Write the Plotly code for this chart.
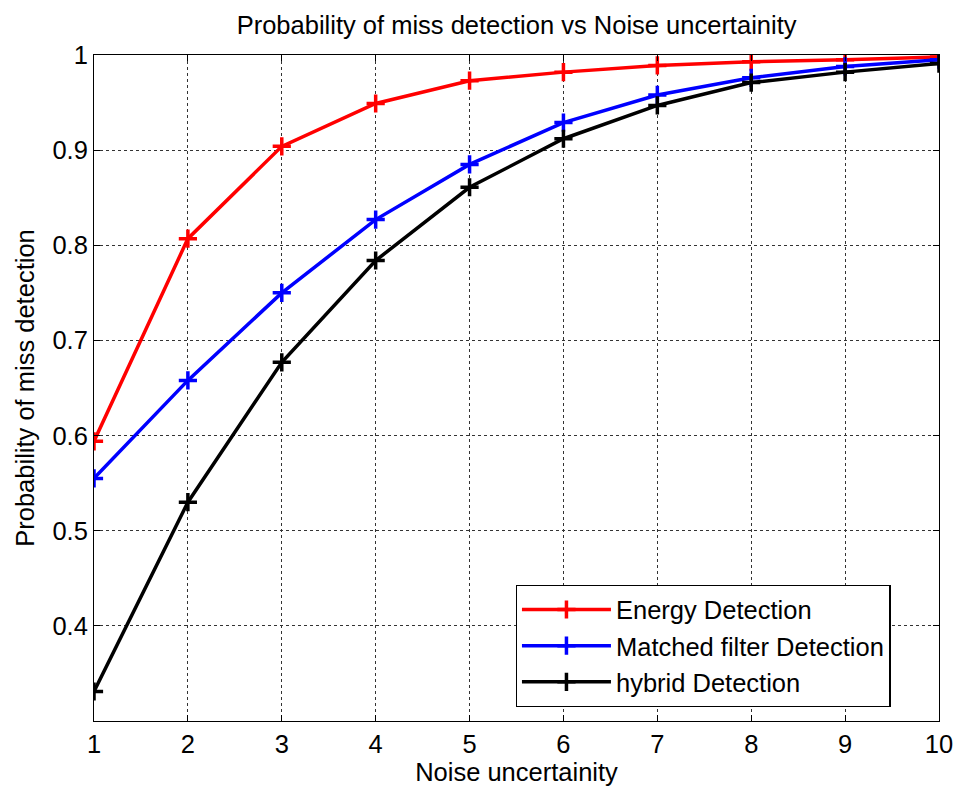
import plotly.graph_objects as go

# Noise uncertainty steps
noise = [1, 2, 3, 4, 5, 6, 7, 8, 9, 10]

# Probability of miss detection for each detector
energy_pm = [0.594, 0.807, 0.904, 0.949, 0.973, 0.982, 0.989, 0.993, 0.995, 0.998]
matched_pm = [0.555, 0.658, 0.750, 0.827, 0.885, 0.929, 0.958, 0.976, 0.988, 0.995]
hybrid_pm = [0.331, 0.530, 0.677, 0.784, 0.861, 0.912, 0.947, 0.971, 0.982, 0.991]

series_names = ["Energy Detection", "Matched filter Detection", "hybrid Detection"]
series_colors = ["#ff0000", "#0000ff", "#000000"]

x_ticks = [1, 2, 3, 4, 5, 6, 7, 8, 9, 10]
y_ticks = [0.4, 0.5, 0.6, 0.7, 0.8, 0.9, 1.0]
y_tick_text = ["0.4", "0.5", "0.6", "0.7", "0.8", "0.9", "1"]

FONT = "Liberation Sans, Arial, sans-serif"
FS = 25.5

fig = go.Figure()
for name, color, vals in zip(series_names, series_colors,
                             [energy_pm, matched_pm, hybrid_pm]):
    fig.add_trace(go.Scatter(
        x=noise, y=vals, name=name, mode="lines+markers",
        line=dict(color=color, width=3.5),
        marker=dict(symbol="cross-thin", size=13,
                    line=dict(color=color, width=3.5)),
    ))

axis_common = dict(
    showline=True, linecolor="black", linewidth=1, mirror="ticks",
    ticks="inside", ticklen=6, tickcolor="black",
    showgrid=True, gridcolor="#333333", gridwidth=1, griddash="dot",
    zeroline=False, automargin=False,
    tickfont=dict(family=FONT, size=FS, color="black"),
)

fig.update_xaxes(
    range=[1, 10], tickvals=x_ticks,
    title=dict(text="Noise uncertainity", font=dict(family=FONT, size=FS, color="black"),
               standoff=4),
    **axis_common,
)
fig.update_yaxes(
    range=[0.3, 1.0], tickvals=y_ticks, ticktext=y_tick_text,
    title=dict(text="Probability of miss detection", font=dict(family=FONT, size=FS, color="black"),
               standoff=10),
    **axis_common,
)

fig.update_layout(
    width=957, height=788,
    margin=dict(l=94, r=18, t=55, b=67),
    paper_bgcolor="white", plot_bgcolor="white",
    title=dict(text="Probability of miss detection vs Noise uncertainity",
               font=dict(family=FONT, size=FS, color="black"),
               x=0.5398, xanchor="center", y=0.968, yanchor="middle"),
    showlegend=True,
    legend=dict(
        x=0.499, y=0.204, xanchor="left", yanchor="top",
        bgcolor="white", bordercolor="black", borderwidth=1.3,
        font=dict(family=FONT, size=FS, color="black"),
        tracegroupgap=0, itemwidth=89,
    ),
)

fig.write_html("out.html")
